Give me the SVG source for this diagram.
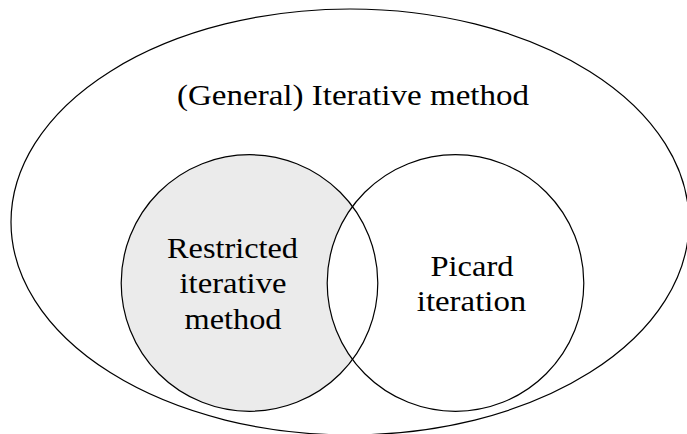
<svg xmlns="http://www.w3.org/2000/svg" width="687" height="434" viewBox="0 0 687 434">
<style>
.outline{fill:none;stroke:#000;stroke-width:1.2}
.lbl{font-family:"Liberation Serif","Times New Roman",serif;font-size:29.5px;fill:#000;text-anchor:middle}
</style>
<rect width="687" height="434" fill="#fff"/>
<g id="general">
<ellipse class="outline" cx="350" cy="222" rx="339" ry="213"/>
<text class="lbl" x="353" y="105" textLength="352" lengthAdjust="spacingAndGlyphs">(General) Iterative method</text>
</g>
<g id="fills">
<circle cx="249.5" cy="283" r="128.3" fill="#ebebeb"/>
<circle cx="455.5" cy="283" r="128.3" fill="#fff"/>
</g>
<g id="restricted">
<circle class="outline" cx="249.5" cy="283" r="128.3"/>
<text class="lbl" x="232.5" y="257.5" textLength="131" lengthAdjust="spacingAndGlyphs">Restricted</text>
<text class="lbl" x="233" y="293.3" textLength="107" lengthAdjust="spacingAndGlyphs">iterative</text>
<text class="lbl" x="233" y="328.5" textLength="97" lengthAdjust="spacingAndGlyphs">method</text>
</g>
<g id="picard">
<circle class="outline" cx="455.5" cy="283" r="128.3"/>
<text class="lbl" x="472" y="276" textLength="83" lengthAdjust="spacingAndGlyphs">Picard</text>
<text class="lbl" x="471.5" y="310.7" textLength="109.5" lengthAdjust="spacingAndGlyphs">iteration</text>
</g>
<g id="connectors"></g>
</svg>
